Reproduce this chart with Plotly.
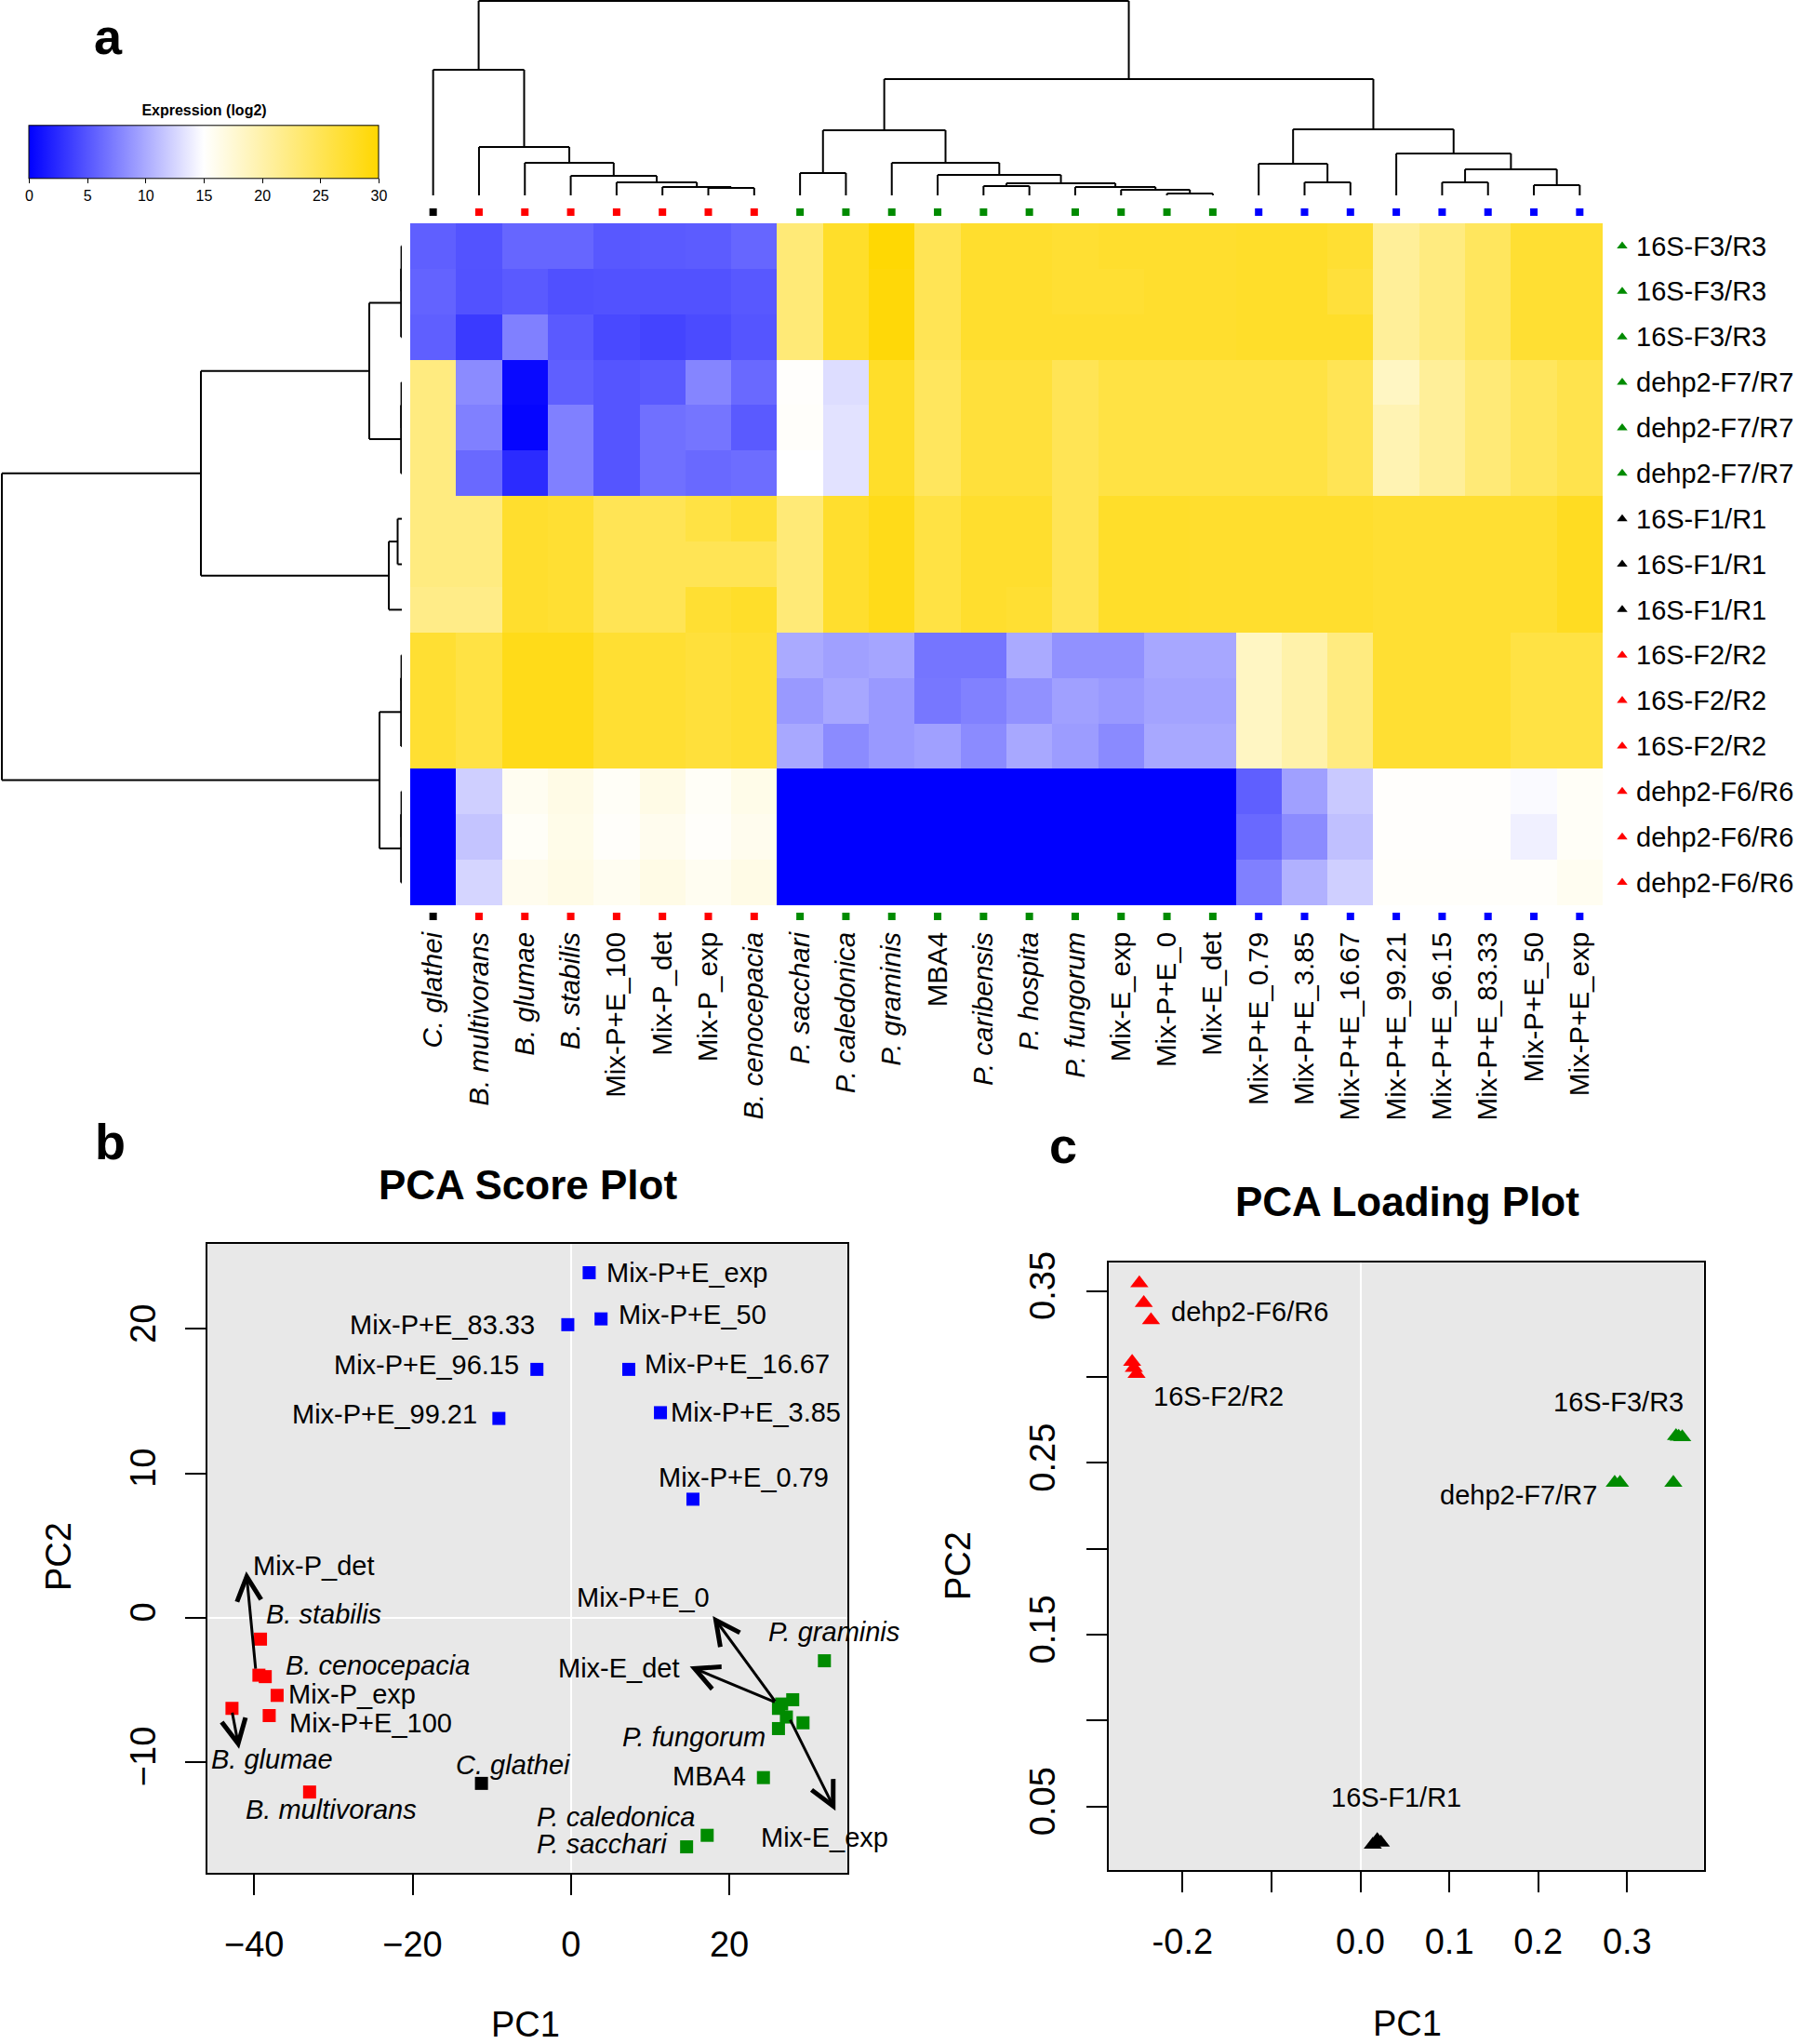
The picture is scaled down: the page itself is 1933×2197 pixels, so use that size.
import plotly.graph_objects as go

W, H = 1933, 2197
FONT = "Liberation Sans, Arial, Helvetica, sans-serif"
RED, GREEN, BLUE, BLACK = "#FF0000", "#008B00", "#0000FF", "#000000"
GROUP_COLOR = {"C": BLACK, "B": RED, "P": GREEN, "M": BLUE, "k": BLACK, "r": RED, "g": GREEN}

# ---------------- heatmap data ----------------
COLUMNS = ["C. glathei", "B. multivorans", "B. glumae", "B. stabilis", "Mix-P+E_100",
           "Mix-P_det", "Mix-P_exp", "B. cenocepacia", "P. sacchari", "P. caledonica",
           "P. graminis", "MBA4", "P. caribensis", "P. hospita", "P. fungorum", "Mix-E_exp",
           "Mix-P+E_0", "Mix-E_det", "Mix-P+E_0.79", "Mix-P+E_3.85", "Mix-P+E_16.67",
           "Mix-P+E_99.21", "Mix-P+E_96.15", "Mix-P+E_83.33", "Mix-P+E_50", "Mix-P+E_exp"]
COLUMN_GROUP = ["C"] + ["B"] * 7 + ["P"] * 10 + ["M"] * 8
ROWS = ["16S-F3/R3"] * 3 + ["dehp2-F7/R7"] * 3 + ["16S-F1/R1"] * 3 + ["16S-F2/R2"] * 3 + ["dehp2-F6/R6"] * 3
ROW_GROUP = ["g"] * 6 + ["k"] * 3 + ["r"] * 6

EXPR = [
    [5.6, 4.9, 6.0, 6.0, 5.2, 5.3, 5.4, 6.0, 23.0, 27.5, 29.8, 25.0, 27.3, 27.3, 27.0, 27.3, 27.3, 27.3, 27.5, 27.5, 27.0, 21.0, 22.5, 24.5, 27.0, 27.0],
    [5.8, 4.8, 5.3, 4.7, 4.8, 4.8, 4.8, 5.2, 23.0, 27.5, 29.5, 25.0, 27.3, 27.3, 27.0, 27.0, 27.3, 27.3, 27.5, 27.5, 26.5, 21.0, 22.5, 24.5, 27.0, 27.0],
    [5.6, 3.4, 7.5, 5.3, 4.3, 4.0, 4.4, 5.0, 23.0, 27.5, 29.5, 25.0, 27.3, 27.3, 27.3, 27.3, 27.3, 27.3, 27.5, 27.5, 27.5, 21.0, 22.5, 24.5, 27.0, 27.0],
    [22.5, 8.2, 0.5, 5.6, 5.0, 5.3, 7.8, 6.2, 15.2, 13.0, 27.5, 24.5, 26.5, 26.5, 25.0, 26.0, 26.0, 26.0, 26.0, 26.0, 25.0, 18.5, 21.0, 23.0, 24.5, 25.5],
    [22.5, 7.5, 0.3, 7.5, 5.0, 6.6, 6.9, 5.3, 15.3, 13.3, 27.5, 24.5, 26.5, 26.5, 25.0, 26.0, 26.0, 26.0, 26.0, 26.0, 25.0, 19.5, 21.0, 23.0, 24.5, 25.5],
    [22.5, 6.2, 2.5, 7.5, 5.0, 6.6, 6.2, 6.4, 15.0, 13.3, 27.5, 24.5, 26.5, 26.5, 25.0, 26.0, 26.0, 26.0, 26.0, 26.0, 25.0, 19.5, 21.0, 23.0, 24.5, 25.5],
    [22.5, 22.5, 27.3, 27.0, 25.0, 25.0, 26.0, 26.8, 23.0, 27.3, 28.5, 26.0, 27.3, 27.3, 25.0, 27.5, 27.5, 27.3, 27.3, 27.3, 27.3, 27.0, 27.0, 27.0, 27.0, 28.0],
    [22.5, 22.5, 27.3, 27.0, 25.0, 25.0, 25.0, 25.0, 23.0, 27.3, 28.5, 26.0, 27.3, 27.3, 25.0, 27.5, 27.5, 27.3, 27.3, 27.3, 27.3, 27.0, 27.0, 27.0, 27.0, 28.0],
    [22.0, 22.0, 27.3, 27.0, 25.0, 25.0, 27.0, 27.5, 23.0, 27.3, 28.5, 26.0, 27.3, 27.0, 25.0, 27.5, 27.5, 27.3, 27.3, 27.3, 27.3, 27.0, 27.0, 27.0, 27.0, 28.0],
    [27.0, 26.0, 28.5, 28.5, 27.0, 27.0, 26.5, 27.0, 10.0, 9.4, 9.7, 6.9, 6.9, 10.0, 8.5, 8.5, 9.8, 9.8, 18.5, 20.0, 22.5, 27.0, 27.0, 27.0, 26.0, 26.0],
    [27.0, 26.0, 28.5, 28.5, 27.0, 27.0, 26.5, 27.0, 9.0, 9.8, 9.0, 7.0, 7.6, 8.5, 9.4, 9.0, 9.6, 9.6, 18.5, 20.0, 22.5, 27.0, 27.0, 27.0, 26.0, 26.0],
    [27.0, 26.0, 28.5, 28.5, 27.0, 27.0, 26.5, 27.0, 9.9, 8.2, 9.0, 9.4, 8.2, 9.9, 9.2, 8.1, 9.9, 9.9, 18.5, 20.0, 22.5, 27.0, 27.0, 27.0, 26.0, 26.0],
    [0.0, 12.2, 15.8, 16.5, 15.5, 16.5, 15.5, 16.3, 0, 0, 0, 0, 0, 0, 0, 0, 0, 0, 5.6, 9.4, 11.8, 15.2, 15.2, 15.2, 14.7, 15.5],
    [0.0, 11.5, 15.5, 16.3, 15.3, 16.0, 15.3, 16.0, 0, 0, 0, 0, 0, 0, 0, 0, 0, 0, 6.2, 8.2, 11.3, 15.2, 15.2, 15.2, 14.1, 15.5],
    [0.0, 12.5, 16.0, 16.5, 15.8, 16.5, 15.8, 16.5, 0, 0, 0, 0, 0, 0, 0, 0, 0, 0, 7.5, 10.4, 12.2, 15.3, 15.3, 15.3, 15.3, 15.8],
]
CB_TICKS = [0, 5, 10, 15, 20, 25, 30]

# dendrogram merges: (child a, child b, height); ids >= n refer to earlier merges
COL_MERGES = [
    (6, 7, 8), (5, 26, 9), (4, 27, 14), (3, 28, 21), (2, 29, 35), (1, 30, 52), (0, 31, 135),
    (8, 9, 24), (16, 17, 2), (15, 34, 6), (14, 35, 9), (12, 13, 10), (37, 36, 13),
    (11, 38, 22), (10, 39, 35), (33, 40, 70),
    (19, 20, 14), (18, 42, 34), (22, 23, 14), (24, 25, 11), (44, 45, 28), (21, 46, 45),
    (43, 47, 71), (41, 48, 125), (32, 49, 209),
]
ROW_MERGES = [
    (0, 1, 0.4), (15, 2, 0.8), (3, 4, 0.4), (17, 5, 0.8), (16, 18, 35),
    (6, 7, 4.5), (20, 8, 14), (19, 21, 216),
    (9, 10, 0.4), (23, 11, 0.8), (12, 13, 0.4), (25, 14, 0.8), (24, 26, 24),
    (22, 27, 430),
]

# ---------------- PCA score data ----------------
SCORE_NAMES = COLUMNS
SCORE_PC1 = [-11.3, -33.0, -42.8, -39.2, -38.1, -39.4, -37.1, -38.6, 14.6, 17.2, 32.0, 24.3, 29.3,
             28.0, 26.2, 27.2, 26.6, 26.2, 15.4, 11.3, 7.3, -9.1, -4.3, -0.4, 3.8, 2.3]
SCORE_PC2 = [-11.5, -12.1, -6.3, -1.5, -6.8, -4.0, -5.4, -4.1, -15.9, -15.1, -3.0, -11.1, -7.3,
             -5.7, -7.7, -6.9, -6.0, -6.3, 8.2, 14.2, 17.2, 13.8, 17.2, 20.3, 20.7, 23.9]
SCORE_GROUP = COLUMN_GROUP
# label placement (centre of text) for each score point
SCORE_LABEL_POS = {
    "C. glathei": (-7.3, -10.2), "B. multivorans": (-30.3, -13.3), "B. glumae": (-37.7, -9.8),
    "B. stabilis": (-31.2, 0.2), "Mix-P+E_100": (-25.3, -7.3), "Mix-P_det": (-32.4, 3.6),
    "Mix-P_exp": (-27.6, -5.3), "B. cenocepacia": (-24.4, -3.3), "P. sacchari": (4.0, -15.7),
    "P. caledonica": (5.7, -13.8), "P. graminis": (33.2, -1.0), "MBA4": (17.5, -11.0),
    "P. caribensis": (40.2, -7.5), "P. hospita": (36.3, -5.45), "P. fungorum": (15.5, -8.3),
    "Mix-E_exp": (32.0, -15.25), "Mix-P+E_0": (9.1, 1.4), "Mix-E_det": (6.1, -3.5),
    "Mix-P+E_0.79": (21.8, 9.7), "Mix-P+E_3.85": (23.3, 14.2), "Mix-P+E_16.67": (21.0, 17.6),
    "Mix-P+E_99.21": (-23.5, 14.1), "Mix-P+E_96.15": (-18.3, 17.5), "Mix-P+E_83.33": (-16.2, 20.3),
    "Mix-P+E_50": (15.4, 21.0), "Mix-P+E_exp": (14.6, 23.9),
}
# arrows: name -> (tail x, tail y, head x, head y)
SCORE_ARROWS = {
    "Mix-P_det": (-39.8, -3.65, -41.0, 3.2),
    "B. glumae": (-42.8, -6.5, -41.9, -9.1),
    "Mix-P+E_0": (25.9, -5.9, 17.9, 0.1),
    "Mix-E_det": (25.9, -5.9, 15.0, -3.4),
    "Mix-E_exp": (27.6, -7.0, 33.4, -13.4),
}

# ---------------- PCA loading data ----------------
LOAD_NAMES = ROWS
LOAD_PC1 = [0.355, 0.362, 0.358, 0.286, 0.292, 0.352, 0.019, 0.023, 0.014,
            -0.2567, -0.2548, -0.2517, -0.2486, -0.2436, -0.2355]
LOAD_PC2 = [0.2656, 0.2649, 0.2652, 0.2385, 0.2385, 0.2385, 0.0305, 0.0291, 0.0278,
            0.3088, 0.3053, 0.3018, 0.3546, 0.3430, 0.3331]
LOAD_GROUP = ROW_GROUP
LOAD_LABEL_POS = {
    "dehp2-F6/R6": (-0.1246, 0.3377), "16S-F2/R2": (-0.1595, 0.2884),
    "16S-F3/R3": (0.2903, 0.2856), "dehp2-F7/R7": (0.1782, 0.2314), "16S-F1/R1": (0.0405, 0.0555),
}


def px(x):
    return x / W


def py(y):
    return 1 - y / H


def italic(name):
    return f"<i>{name}</i>" if ". " in name else name


def dendro(n, merges):
    pos = {i: float(i) for i in range(n)}
    hgt = {i: 0.0 for i in range(n)}
    P, Hh = [], []
    for k, (a, b, h) in enumerate(merges):
        for c in (a, b):
            P += [pos[c], pos[c], None]
            Hh += [hgt[c], h, None]
        P += [pos[a], pos[b], None]
        Hh += [h, h, None]
        pos[n + k] = (pos[a] + pos[b]) / 2
        hgt[n + k] = h
    return P, Hh


ncol, nrow = len(COLUMNS), len(ROWS)
HM_L, HM_R, HM_T, HM_B = 441, 1723, 240, 973      # heatmap box in page pixels
cw = (HM_R - HM_L) / ncol
rh = (HM_B - HM_T) / nrow
PAD_T, PAD_B, PAD_R = 20, 22, 30                  # overlay axes padding (px)

fig = go.Figure()

# heatmap
fig.add_trace(go.Heatmap(
    z=EXPR, x=list(range(ncol)), y=list(range(nrow)), xaxis="x", yaxis="y",
    colorscale=[[0, "#0000FF"], [0.5, "#FFFFFF"], [1, "#FFD700"]], zmin=0, zmax=30,
    hoverinfo="skip",
    colorbar=dict(orientation="h", x=px(219.5), xanchor="center", y=py(220), yanchor="bottom",
                  len=376, lenmode="pixels", thickness=57, thicknessmode="pixels",
                  outlinewidth=1, outlinecolor="black", xpad=0, ypad=0,
                  tickvals=CB_TICKS, ticks="outside", ticklen=5, tickcolor="black",
                  tickfont=dict(size=16, family=FONT, color="black"),
                  title=dict(text="<b>Expression (log2)</b>", side="top",
                             font=dict(size=16, family=FONT, color="black"))),
))

# column group squares above and below (overlay axes x6/y6 share heatmap coordinates)
col_idx = list(range(ncol))
col_colors = [GROUP_COLOR[g] for g in COLUMN_GROUP]
for yoff in (-0.5 - 12 / rh, nrow - 0.5 + 12 / rh):
    fig.add_trace(go.Scatter(x=col_idx, y=[yoff] * ncol, mode="markers", xaxis="x6", yaxis="y6",
                             marker=dict(symbol="square", size=8, color=col_colors),
                             hoverinfo="skip", showlegend=False))
# row triangles
fig.add_trace(go.Scatter(x=[ncol - 0.5 + 21 / cw] * nrow, y=list(range(nrow)), mode="markers",
                         xaxis="x6", yaxis="y6",
                         marker=dict(symbol="triangle-up", size=10,
                                     color=[GROUP_COLOR[g] for g in ROW_GROUP]),
                         hoverinfo="skip", showlegend=False))

# dendrograms
cx, ch = dendro(ncol, COL_MERGES)
fig.add_trace(go.Scatter(x=cx, y=ch, mode="lines", xaxis="x2", yaxis="y2",
                         line=dict(color="black", width=2), hoverinfo="skip", showlegend=False))
ry, rhh = dendro(nrow, ROW_MERGES)
fig.add_trace(go.Scatter(x=rhh, y=ry, mode="lines", xaxis="x3", yaxis="y3",
                         line=dict(color="black", width=2), hoverinfo="skip", showlegend=False))

# score plot
fig.add_trace(go.Scatter(x=SCORE_PC1, y=SCORE_PC2, mode="markers", xaxis="x4", yaxis="y4",
                         marker=dict(symbol="square", size=14,
                                     color=[GROUP_COLOR[g] for g in SCORE_GROUP]),
                         cliponaxis=False, hoverinfo="skip", showlegend=False))
# loading plot
fig.add_trace(go.Scatter(x=LOAD_PC1, y=LOAD_PC2, mode="markers", xaxis="x5", yaxis="y5",
                         marker=dict(symbol="triangle-up", size=17,
                                     color=[GROUP_COLOR[g] for g in LOAD_GROUP]),
                         cliponaxis=False, hoverinfo="skip", showlegend=False))

ann = []
for name, (lx, ly) in SCORE_LABEL_POS.items():
    ann.append(dict(x=lx, y=ly, xref="x4", yref="y4", text=italic(name), showarrow=False,
                    font=dict(size=29, family=FONT, color="black")))
for name, (tx, ty, hx, hy) in SCORE_ARROWS.items():
    ann.append(dict(x=hx, y=hy, ax=tx, ay=ty, xref="x4", yref="y4", axref="x4", ayref="y4",
                    text="", showarrow=True, arrowhead=5, arrowsize=1.7, arrowwidth=3,
                    arrowcolor="black", standoff=0, startstandoff=0))
for name, (lx, ly) in LOAD_LABEL_POS.items():
    ann.append(dict(x=lx, y=ly, xref="x5", yref="y5", text=name, showarrow=False,
                    font=dict(size=29, family=FONT, color="black")))


def ptxt(text, x, y, size, angle=0):
    ann.append(dict(x=px(x), y=py(y), xref="paper", yref="paper", text=text, showarrow=False,
                    textangle=angle, xanchor="center", yanchor="middle",
                    font=dict(size=size, family=FONT, color="black")))


ptxt("<b>a</b>", 116, 39, 54)
ptxt("<b>b</b>", 118, 1227, 54)
ptxt("<b>c</b>", 1143, 1231, 54)
ptxt("<b>PCA Score Plot</b>", 567, 1273, 44)
ptxt("<b>PCA Loading Plot</b>", 1513, 1291, 44)
ptxt("PC1", 565, 2176, 38)
ptxt("PC2", 63, 1673, 38, -90)
ptxt("PC1", 1513, 2175, 38)
ptxt("PC2", 1030, 1683, 38, -90)

shapes = [
    dict(type="rect", xref="x4 domain", yref="y4 domain", x0=0, x1=1, y0=0, y1=1,
         fillcolor="#E8E8E8", line=dict(width=0), layer="below"),
    dict(type="rect", xref="x5 domain", yref="y5 domain", x0=0, x1=1, y0=0, y1=1,
         fillcolor="#E8E8E8", line=dict(width=0), layer="below"),
]

hide = dict(showgrid=False, zeroline=False, showticklabels=False, ticks="", showline=False,
            automargin=False)
pca_ax = dict(showgrid=False, zeroline=True, zerolinecolor="white", zerolinewidth=2,
              showline=True, mirror=True, linecolor="black", linewidth=2,
              ticks="outside", ticklen=22, tickwidth=2, tickcolor="black",
              tickfont=dict(size=38, family=FONT, color="black"), automargin=False)

fig.update_layout(
    width=W, height=H, autosize=False, margin=dict(l=0, r=0, t=0, b=0, pad=0),
    paper_bgcolor="white", plot_bgcolor="rgba(0,0,0,0)", showlegend=False, hovermode=False,
    font=dict(family=FONT, color="black"),
    xaxis=dict(domain=[px(HM_L), px(HM_R)], anchor="y", range=[-0.5, ncol - 0.5],
               tickvals=col_idx, ticktext=[italic(c) for c in COLUMNS], tickangle=-90,
               tickfont=dict(size=29.5, family=FONT, color="black"), ticks="",
               ticklabelstandoff=22, showgrid=False, zeroline=False, showline=False, automargin=False),
    yaxis=dict(domain=[py(HM_B), py(HM_T)], anchor="x", range=[nrow - 0.5, -0.5], side="right",
               tickvals=list(range(nrow)), ticktext=ROWS,
               tickfont=dict(size=29, family=FONT, color="black"), ticks="",
               ticklabelstandoff=35, showgrid=False, zeroline=False, showline=False, automargin=False),
    xaxis2=dict(domain=[px(HM_L), px(HM_R)], anchor="y2", range=[-0.5, ncol - 0.5], **hide),
    yaxis2=dict(domain=[py(210), 1], anchor="x2", range=[0, 210], **hide),
    xaxis3=dict(domain=[0, px(432)], anchor="y3", range=[432, 0], **hide),
    yaxis3=dict(domain=[py(HM_B), py(HM_T)], anchor="x3", range=[nrow - 0.5, -0.5], **hide),
    xaxis4=dict(domain=[px(223), px(911)], anchor="y4", range=[-45.9, 34.9],
                tickvals=[-40, -20, 0, 20], ticklabelstandoff=20, **pca_ax),
    yaxis4=dict(domain=[py(2013), py(1337)], anchor="x4", range=[-17.7, 25.9],
                tickvals=[-10, 0, 10, 20], tickangle=-90, ticklabelstandoff=17, **pca_ax),
    xaxis5=dict(domain=[px(1192), px(1831.5)], anchor="y5", range=[-0.283, 0.386],
                tickvals=[-0.2, -0.1, 0, 0.1, 0.2, 0.3],
                ticktext=["-0.2", "", "0.0", "0.1", "0.2", "0.3"], ticklabelstandoff=20, **pca_ax),
    yaxis5=dict(domain=[py(2010), py(1357)], anchor="x5", range=[0.0131, 0.3666],
                tickvals=[0.05, 0.10, 0.15, 0.20, 0.25, 0.30, 0.35],
                ticktext=["0.05", "", "0.15", "", "0.25", "", "0.35"], tickangle=-90,
                ticklabelstandoff=19, **pca_ax),
    xaxis6=dict(domain=[px(HM_L), px(HM_R + PAD_R)], anchor="y6",
                range=[-0.5, ncol - 0.5 + PAD_R / cw], **hide),
    yaxis6=dict(domain=[py(HM_B + PAD_B), py(HM_T - PAD_T)], anchor="x6",
                range=[nrow - 0.5 + PAD_B / rh, -0.5 - PAD_T / rh], **hide),
    annotations=ann, shapes=shapes,
)

fig.write_html("out.html", config={"displayModeBar": False},
               post_script="document.body.style.margin='0';")
